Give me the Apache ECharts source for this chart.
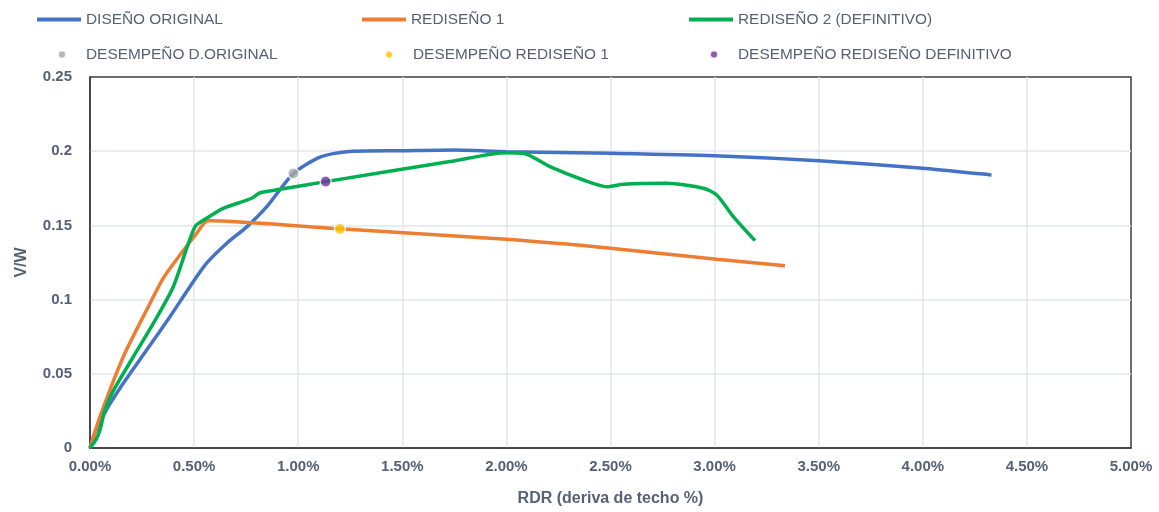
<!DOCTYPE html>
<html>
<head>
<meta charset="utf-8">
<script src="https://cdn.jsdelivr.net/npm/echarts@6/dist/echarts.min.js"></script>
<style>
  html, body { margin: 0; padding: 0; background: #ffffff; }
  #chart { width: 1159px; height: 512px; }
</style>
</head>
<body>
<div id="chart"></div>
<script>
// Pushover curves: base shear ratio V/W against roof drift ratio (%)
const diseñoOriginal = [
  [0, 0], [0.02, 0.009], [0.08, 0.026], [0.16, 0.0436], [0.272, 0.066], [0.384, 0.0885],
  [0.48, 0.1087], [0.56, 0.1245], [0.657, 0.138], [0.753, 0.149], [0.849, 0.1626],
  [0.977, 0.185], [1.105, 0.196], [1.233, 0.1997], [1.5, 0.2003], [1.75, 0.2008],
  [2.0, 0.1997], [2.5, 0.1986], [3.0, 0.197], [3.5, 0.1936], [4.0, 0.1885], [4.33, 0.184]
];
const rediseño1 = [
  [0, 0], [0.048, 0.0211], [0.16, 0.0615], [0.272, 0.093], [0.352, 0.1145], [0.432, 0.13],
  [0.512, 0.1447], [0.568, 0.1532], [1.2, 0.1477], [2.0, 0.1406], [2.5, 0.1346],
  [3.01, 0.1272], [3.338, 0.1228]
];
const rediseño2 = [
  [0, 0], [0.03, 0.006], [0.05, 0.013], [0.07, 0.025], [0.11, 0.038], [0.208, 0.0615],
  [0.304, 0.084], [0.4, 0.1087], [0.504, 0.1491], [0.56, 0.1548], [0.64, 0.1615],
  [0.777, 0.1683], [0.817, 0.172], [0.913, 0.1743], [1.132, 0.1795], [1.729, 0.193],
  [2.0, 0.199], [2.081, 0.1986], [2.209, 0.1896], [2.37, 0.1806], [2.482, 0.1761],
  [2.561, 0.1777], [2.77, 0.1784], [2.946, 0.175], [3.01, 0.1705], [3.09, 0.1559],
  [3.194, 0.1397]
];
// Performance points
const desempeñoOriginal = [[0.977, 0.185]];
const desempeñoRediseño1 = [[1.2, 0.1477]];
const desempeñoDefinitivo = [[1.132, 0.1795]];

const seriesNames = [
  'DISEÑO ORIGINAL', 'REDISEÑO 1', 'REDISEÑO 2 (DEFINITIVO)',
  'DESEMPEÑO D.ORIGINAL', 'DESEMPEÑO REDISEÑO 1', 'DESEMPEÑO REDISEÑO DEFINITIVO'
];
const xTicks = { min: 0, max: 5, step: 0.5 };
const yTicks = { min: 0, max: 0.25, step: 0.05 };

const FONT = "'Liberation Sans', Arial, sans-serif";
const TEXT = '#566175';

// One legend block per entry so each can sit at its own place in the two rows
function lineLegend(name, left, top) {
  return {
    data: [name], left: left, top: top, padding: 0, selectedMode: false,
    icon: 'rect', itemWidth: 44, itemHeight: 4,
    textStyle: { fontFamily: FONT, fontSize: 15.4, color: TEXT }
  };
}
function dotLegend(name, left, top) {
  return {
    data: [name], left: left, top: top, padding: 0, selectedMode: false,
    icon: 'circle', itemWidth: 8, itemHeight: 8,
    textStyle: { fontFamily: FONT, fontSize: 15.4, color: TEXT, padding: [0, 0, 0, 15] }
  };
}

const gridLine = { show: true, showMinLine: false, showMaxLine: false,
                   lineStyle: { color: '#e2e6ee', width: 1.5 } };

const chart = echarts.init(document.getElementById('chart'), null, { renderer: 'canvas' });
chart.setOption({
  animation: false,
  backgroundColor: '#ffffff',
  legend: [
    lineLegend(seriesNames[0], 37, 12),
    lineLegend(seriesNames[1], 362, 12),
    lineLegend(seriesNames[2], 689, 12),
    dotLegend(seriesNames[3], 57, 47),
    dotLegend(seriesNames[4], 384, 47),
    dotLegend(seriesNames[5], 709, 47)
  ],
  grid: {
    left: 90, top: 77, right: 28, bottom: 64,
    show: true, borderColor: '#3c3c3c', borderWidth: 1.5
  },
  xAxis: {
    type: 'value', min: xTicks.min, max: xTicks.max, interval: xTicks.step,
    name: 'RDR (deriva de techo %)', nameLocation: 'middle', nameGap: 43,
    nameTextStyle: { fontFamily: FONT, fontSize: 16, fontWeight: 'bold', color: TEXT },
    axisLine: { show: true, lineStyle: { color: '#3c3c3c', width: 1.5 } },
    axisTick: { show: false },
    axisLabel: {
      fontFamily: FONT, fontSize: 15, fontWeight: 'bold', color: TEXT, margin: 11,
      formatter: v => v.toFixed(2) + '%'
    },
    splitLine: gridLine
  },
  yAxis: {
    type: 'value', min: yTicks.min, max: yTicks.max, interval: yTicks.step,
    name: 'V/W', nameLocation: 'middle', nameGap: 60,
    nameTextStyle: { fontFamily: FONT, fontSize: 16, fontWeight: 'bold', color: TEXT },
    axisLine: { show: true, lineStyle: { color: '#3c3c3c', width: 1.5 } },
    axisTick: { show: false },
    axisLabel: {
      fontFamily: FONT, fontSize: 15, fontWeight: 'bold', color: TEXT, margin: 18,
      formatter: v => String(+v.toFixed(2))
    },
    splitLine: gridLine
  },
  series: [
    { name: seriesNames[0], type: 'line', data: diseñoOriginal, smooth: 0.25, showSymbol: false,
      color: '#4472C4', lineStyle: { width: 3.5 }, z: 3 },
    { name: seriesNames[1], type: 'line', data: rediseño1, smooth: 0.25, showSymbol: false,
      color: '#ED7D31', lineStyle: { width: 3.5 }, z: 3 },
    { name: seriesNames[2], type: 'line', data: rediseño2, smooth: 0.25, showSymbol: false,
      color: '#00B050', lineStyle: { width: 3.5 }, z: 4 },
    { name: seriesNames[3], type: 'scatter', data: desempeñoOriginal, symbolSize: 11,
      color: '#A5A5A5', itemStyle: { borderColor: '#ffffff', borderWidth: 1.5 }, z: 6 },
    { name: seriesNames[4], type: 'scatter', data: desempeñoRediseño1, symbolSize: 11,
      color: '#FFC000', itemStyle: { borderColor: '#ffffff', borderWidth: 1.5 }, z: 6 },
    { name: seriesNames[5], type: 'scatter', data: desempeñoDefinitivo, symbolSize: 11,
      color: '#7030A0', itemStyle: { borderColor: '#ffffff', borderWidth: 1.5 }, z: 6 }
  ]
});
</script>
</body>
</html>
